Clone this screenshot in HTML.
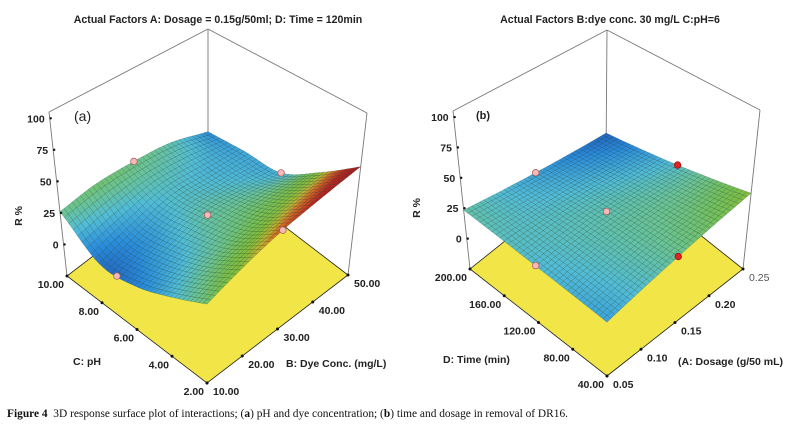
<!DOCTYPE html>
<html><head><meta charset="utf-8"><style>
html,body{margin:0;padding:0;background:#fff;}
#wrap{position:relative;width:785px;height:427px;overflow:hidden;}
svg{position:absolute;left:0;top:0;}
text{font-family:"Liberation Sans",sans-serif;}
.cap{position:absolute;left:7px;top:408px;font-family:"Liberation Serif",serif;font-size:11.4px;color:#111;white-space:nowrap;}
</style></head><body>
<div id="wrap">
<svg id="chart" width="785" height="427" viewBox="0 0 785 427"></svg>
<div class="cap"><b>Figure 4</b>&nbsp; 3D response surface plot of interactions; (<b>a</b>) pH and dye concentration; (<b>b</b>) time and dosage in removal of DR16.</div>
</div>
<script>
// Panel (a) data: rows = pH, columns = dye conc.
const dyeConc = [10, 20, 30, 40, 50];
const pHvals = [2, 4, 6, 8, 10];
const removalA = [
  [29, 39, 48, 55, 62],
  [17, 24, 30, 35, 38],
  [7, 15, 23, 22, 17],
  [5, 12, 19, 17, 14],
  [26, 29, 27, 22, 9]
];
const designA_dye = [30, 50, 30, 30, 10];
const designA_pH = [10, 6, 6, 2, 7];
const designA_R = [27, 17, 23, 48, 5];
// Panel (b) data: rows = time, columns = dosage
const dosageVals = [0.05, 0.15, 0.25];
const timeVals = [40, 120, 200];
const removalB = [
  [13, 25, 37],
  [18, 22, 19.5],
  [23.5, 12.75, 2]
];
const designB_dose = [0.15, 0.25, 0.15, 0.05, 0.15];
const designB_time = [200, 120, 40, 120, 120];
const designB_R = [12.75, 19.5, 25, 18.25, 22];
const designB_red = [false, true, true, false, false];
const zTicks = [0, 25, 50, 75, 100];
const dyeTicks = ["10.00", "20.00", "30.00", "40.00", "50.00"];
const pHTicks = ["2.00", "4.00", "6.00", "8.00", "10.00"];
const timeTicks = ["40.00", "80.00", "120.00", "160.00", "200.00"];
const doseTicks = ["0.05", "0.10", "0.15", "0.20", "0.25"];

const NS = "http://www.w3.org/2000/svg";
const svg = document.getElementById('chart');
function mk(tag, attrs, parent) {
  const e = document.createElementNS(NS, tag);
  for (const k in attrs) e.setAttribute(k, attrs[k]);
  (parent || svg).appendChild(e);
  return e;
}
const ZMIN = -25, ZMAX = 105;
function makeProj(F00, F10, F01, F11, T00, T10, T01, T11) {
  return function (u, v, z) {
    const w = (z - ZMIN) / (ZMAX - ZMIN);
    const bl = (A, B, C, D) => [
      A[0] * (1 - u) * (1 - v) + B[0] * u * (1 - v) + C[0] * (1 - u) * v + D[0] * u * v,
      A[1] * (1 - u) * (1 - v) + B[1] * u * (1 - v) + C[1] * (1 - u) * v + D[1] * u * v];
    const f = bl(F00, F10, F01, F11), t = bl(T00, T10, T01, T11);
    return [f[0] * (1 - w) + t[0] * w, f[1] * (1 - w) + t[1] * w];
  };
}
const cstops = [[0, [30, 85, 180]], [9, [40, 140, 220]], [18, [80, 188, 215]], [25, [105, 195, 150]], [31, [115, 192, 90]], [37, [130, 190, 60]], [42, [190, 180, 50]], [46, [215, 110, 35]], [53, [185, 35, 30]], [70, [150, 20, 20]]];
function col(z) {
  if (z <= cstops[0][0]) return 'rgb(' + cstops[0][1] + ')';
  for (let i = 1; i < cstops.length; i++) {
    if (z <= cstops[i][0]) {
      const a = cstops[i - 1], b = cstops[i], t = (z - a[0]) / (b[0] - a[0]);
      return 'rgb(' + a[1].map((c, k) => Math.round(c + (b[1][k] - c) * t)).join(',') + ')';
    }
  }
  return 'rgb(' + cstops[cstops.length - 1][1] + ')';
}
function cr(p0, p1, p2, p3, t) {
  return 0.5 * ((2 * p1) + (-p0 + p2) * t + (2 * p0 - 5 * p1 + 4 * p2 - p3) * t * t + (-p0 + 3 * p1 - 3 * p2 + p3) * t * t * t);
}
function interp(grid, u, v) {
  const nr = grid.length - 1, nc = grid[0].length - 1;
  const x = u * nc, y = v * nr;
  const i = Math.min(Math.floor(x), nc - 1), j = Math.min(Math.floor(y), nr - 1);
  const fx = x - i, fy = y - j;
  const g = (r, c) => {
    r = Math.max(0, Math.min(nr, r)); c = Math.max(0, Math.min(nc, c));
    return grid[r][c];
  };
  const gx = (r, c) => {
    if (c < 0) return 2 * g(r, 0) - g(r, 1);
    if (c > nc) return 2 * g(r, nc) - g(r, nc - 1);
    return g(r, c);
  };
  const rowv = r => {
    if (r < 0) return 2 * rowv(0) - rowv(1);
    if (r > nr) return 2 * rowv(nr) - rowv(nr - 1);
    return cr(gx(r, i - 1), gx(r, i), gx(r, i + 1), gx(r, i + 2), fx);
  };
  return cr(rowv(j - 1), rowv(j), rowv(j + 1), rowv(j + 2), fy);
}
function pts(a) { return a.map(p => p[0].toFixed(1) + ',' + p[1].toFixed(1)).join(' '); }

function panel(cfg) {
  const g = mk('g', {});
  
  
  const P = cfg.proj;
  const frame = [[P(0, 1, ZMAX), P(1, 1, ZMAX)], [P(1, 1, ZMAX), P(1, 0, ZMAX)], [P(1, 1, ZMIN), P(1, 1, ZMAX)], [P(0, 1, ZMIN), P(0, 1, ZMAX)], [P(1, 0, ZMIN), P(1, 0, ZMAX)]];
  frame.forEach(l => {
    const e = mk('line', { x1: l[0][0], y1: l[0][1], x2: l[1][0], y2: l[1][1], stroke: '#777', 'stroke-width': 0.9 }, g);
    
    
  });
  const fl = mk('polygon', { points: pts([P(0, 0, ZMIN), P(1, 0, ZMIN), P(1, 1, ZMIN), P(0, 1, ZMIN)]), fill: '#f1e548', stroke: '#222', 'stroke-width': 0.8 }, g);
  
  
  const N = 36, quads = [];
  for (let i = 0; i < N; i++) for (let j = 0; j < N; j++) {
    const u0 = i / N, u1 = (i + 1) / N, v0 = j / N, v1 = (j + 1) / N;
    const zc = interp(cfg.grid, (u0 + u1) / 2, (v0 + v1) / 2);
    quads.push({ d: u0 + v0, p: [P(u0, v0, interp(cfg.grid, u0, v0)), P(u1, v0, interp(cfg.grid, u1, v0)), P(u1, v1, interp(cfg.grid, u1, v1)), P(u0, v1, interp(cfg.grid, u0, v1))], c: col(zc) });
  }
  quads.sort((a, b) => b.d - a.d);
  const sg = mk('g', {}, g);
  
  
  quads.forEach(q => {
    const e = mk('polygon', { points: pts(q.p), fill: q.c, stroke: 'rgba(15,40,40,0.42)', 'stroke-width': 0.4 }, sg);
    
    
  });
  cfg.design.forEach(d => {
    const p = P(d.u, d.v, d.z);
    const e = mk('circle', { cx: p[0], cy: p[1], r: 3.3, fill: d.red ? '#e02424' : '#f5b9b9', stroke: d.red ? '#901010' : '#a05a5a', 'stroke-width': 0.7 }, g);
    
    
  });
  zTicks.forEach(z => {
    const p = P(0, 1, z);
    const d = mk('circle', { cx: p[0] + 1, cy: p[1], r: 1.2, fill: '#111' }, g);
    
    
    const t = mk('text', { x: p[0] - 5, y: p[1] + 4, 'font-size': 10.5, 'font-weight': 'bold', 'text-anchor': 'end', fill: '#222' }, g);
    t.textContent = z;
    
    
  });
  cfg.vTicks.forEach((lab, k) => {
    const p = P(0, k / 4, ZMIN);
    const d = mk('circle', { cx: p[0], cy: p[1], r: 1.5, fill: '#111' }, g);
    
    
    const t = mk('text', { x: p[0] - 3, y: p[1] + 12, 'font-size': 10.5, 'font-weight': 'bold', 'text-anchor': 'end', fill: '#222' }, g);
    t.textContent = lab;
    
    
  });
  cfg.uTicks.forEach((lab, k) => {
    const p = P(k / 4, 0, ZMIN);
    const d = mk('circle', { cx: p[0], cy: p[1], r: 1.5, fill: '#111' }, g);
    
    
    const t = mk('text', { x: p[0] + 6, y: p[1] + 12, 'font-size': 10.5, 'font-weight': k === 4 && cfg.lastLight ? 'normal' : 'bold', fill: k === 4 && cfg.lastLight ? '#555' : '#222' }, g);
    t.textContent = lab;
    
    
  });
  cfg.labels.forEach(L => {
    const t = mk('text', { x: L[1], y: L[2], 'font-size': L[3], 'font-weight': L[4] || 'bold', fill: '#222', 'text-anchor': L[5] || 'start' }, g);
    if (L[6]) t.setAttribute('transform', L[6]);
    t.textContent = L[0];
    
    
  });
}

const projA = makeProj([207, 383], [348, 275], [67, 276], [208, 168], [207, 193], [367, 113], [49, 112], [208, 29]);
const projB = makeProj([607, 376], [743, 269], [470, 269], [606, 160], [607, 192], [760, 110], [453, 111], [607, 30]);
const uA = b => (b - dyeConc[0]) / (dyeConc[dyeConc.length - 1] - dyeConc[0]);
const vA = p => (p - pHvals[0]) / (pHvals[pHvals.length - 1] - pHvals[0]);
const uB = a => (a - dosageVals[0]) / (dosageVals[dosageVals.length - 1] - dosageVals[0]);
const vB = t => (t - timeVals[0]) / (timeVals[timeVals.length - 1] - timeVals[0]);

panel({
  name: 'panel-a', proj: projA, grid: removalA,
  design: designA_dye.map((b, i) => ({ u: uA(b), v: vA(designA_pH[i]), z: designA_R[i], red: false })),
  vTicks: pHTicks, uTicks: dyeTicks, lastLight: false,
  labels: [
    ['Actual Factors A: Dosage = 0.15g/50ml; D: Time = 120min', 218, 23, 10.6, 'bold', 'middle', null, 'title-a'],
    ['(a)', 74, 121, 14, 'normal', 'start', null, 'panel-label-a'],
    ['R %', 22, 216, 10.5, 'bold', 'middle', 'rotate(-90 22 216)', 'z-axis-title-a'],
    ['C: pH', 73, 365, 10.5, 'bold', 'start', null, 'ph-axis-title'],
    ['B: Dye Conc. (mg/L)', 286, 367, 10.5, 'bold', 'start', null, 'dye-axis-title']
  ]
});
panel({
  name: 'panel-b', proj: projB, grid: removalB,
  design: designB_dose.map((a, i) => ({ u: uB(a), v: vB(designB_time[i]), z: designB_R[i], red: designB_red[i] })),
  vTicks: timeTicks, uTicks: doseTicks, lastLight: true,
  labels: [
    ['Actual Factors  B:dye conc. 30 mg/L C:pH=6', 610, 23, 10.6, 'bold', 'middle', null, 'title-b'],
    ['(b)', 476, 119, 11, 'bold', 'start', null, 'panel-label-b'],
    ['R %', 420, 208, 10.5, 'bold', 'middle', 'rotate(-90 420 208)', 'z-axis-title-b'],
    ['D: Time (min)', 443, 363, 10.5, 'bold', 'start', null, 'time-axis-title'],
    ['(A: Dosage (g/50 mL)', 678, 365, 10.5, 'bold', 'start', null, 'dosage-axis-title']
  ]
});
</script>
</body></html>
